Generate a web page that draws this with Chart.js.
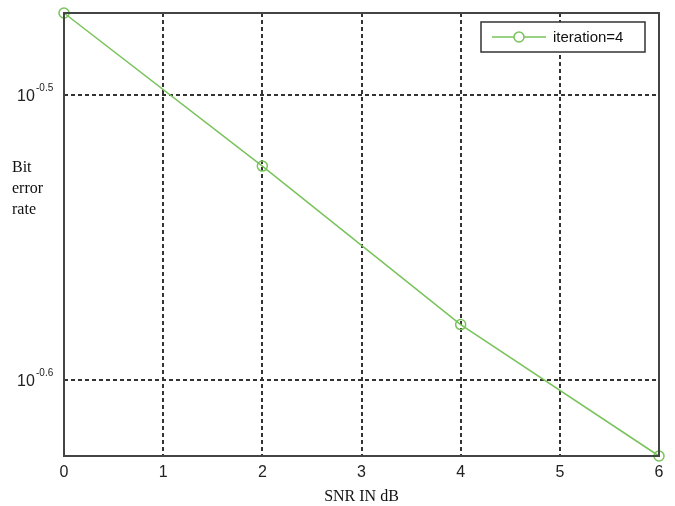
<!DOCTYPE html>
<html>
<head>
<meta charset="UTF-8" />
<title>BER vs SNR</title>
<script src="https://cdn.jsdelivr.net/npm/chart.js@4.4.0/dist/chart.umd.min.js"></script>
<style>
  html, body { margin: 0; padding: 0; background: #fff; }
  .wrap { width: 675px; height: 506px; }
</style>
</head>
<body>
<div class="wrap"><canvas id="chart" width="675" height="506"></canvas></div>
<script>
// data
var snr = [0, 2, 4, 6];
var ber = [0.3377, 0.2985, 0.2627, 0.2363];
var xTicks = [0, 1, 2, 3, 4, 5, 6];
var yTicks = [Math.pow(10, -0.6), Math.pow(10, -0.5)];
var yTickExp = ['-0.6', '-0.5'];
var seriesName = 'iteration=4';

var green = '#78c35a';
var gridCol = '#333';

// draws frame, y tick labels, y title and legend box
var extras = {
  id: 'extras',
  afterDraw: function(chart) {
    var c = chart.ctx, a = chart.chartArea;
    var y = chart.scales.y;
    c.save();
    // frame
    c.strokeStyle = '#444';
    c.lineWidth = 2;
    c.strokeRect(a.left, a.top, a.right - a.left, a.bottom - a.top);

    // y tick labels 10^x
    c.fillStyle = '#222';
    c.textBaseline = 'alphabetic';
    yTicks.forEach(function(v, i) {
      var py = y.getPixelForValue(v);
      c.font = '16px "Liberation Sans", Arial, sans-serif';
      c.textAlign = 'left';
      c.fillText('10', 17, py + 6);
      c.font = '10px "Liberation Sans", Arial, sans-serif';
      c.fillText(yTickExp[i], 36, py - 4);
    });

    // y title, horizontal, three lines
    c.font = '16px "Liberation Serif", "Times New Roman", serif';
    c.fillStyle = '#111';
    c.fillText('Bit', 12, 172);
    c.fillText('error', 12, 193);
    c.fillText('rate', 12, 214);

    // legend
    var lx = 481, ly = 22, lw = 164, lh = 30;
    c.fillStyle = '#fff';
    c.fillRect(lx, ly, lw, lh);
    c.strokeStyle = '#333';
    c.lineWidth = 1.5;
    c.strokeRect(lx, ly, lw, lh);
    c.strokeStyle = green;
    c.lineWidth = 1.5;
    c.beginPath();
    c.moveTo(492, ly + lh / 2);
    c.lineTo(546, ly + lh / 2);
    c.stroke();
    c.beginPath();
    c.arc(519, ly + lh / 2, 5, 0, Math.PI * 2);
    c.fillStyle = '#fff';
    c.fill();
    c.stroke();
    c.fillStyle = '#111';
    c.font = '15px "Liberation Sans", Arial, sans-serif';
    c.textBaseline = 'middle';
    c.fillText(seriesName, 553, ly + lh / 2 + 1);
    c.restore();
  }
};

var ctx = document.getElementById('chart').getContext('2d');
var chart = new Chart(ctx, {
  type: 'line',
  data: {
    datasets: [{
      label: seriesName,
      data: snr.map(function(x, i) { return { x: x, y: ber[i] }; }),
      borderColor: green,
      borderWidth: 1.5,
      backgroundColor: 'rgba(0,0,0,0)',
      pointBackgroundColor: 'rgba(0,0,0,0)',
      pointBorderColor: green,
      pointBorderWidth: 1.5,
      pointRadius: 5,
      tension: 0,
      clip: false
    }]
  },
  options: {
    responsive: false,
    animation: false,
    layout: { padding: { top: 13, right: 16, left: 0, bottom: 0 } },
    plugins: {
      legend: { display: false },
      tooltip: { enabled: false }
    },
    scales: {
      x: {
        type: 'linear',
        min: 0,
        max: 6,
        afterBuildTicks: function(s) { s.ticks = xTicks.map(function(v) { return { value: v }; }); },
        afterFit: function(s) { s.height = 50; },
        grid: {
          color: gridCol,
          lineWidth: 2,
          drawTicks: false
        },
        border: { display: false, dash: [4, 3] },
        ticks: {
          padding: 7,
          color: '#222',
          font: { family: '"Liberation Sans", Arial, sans-serif', size: 16 }
        },
        title: {
          display: true,
          text: 'SNR IN dB',
          color: '#111',
          padding: { top: 2, bottom: 0 },
          font: { family: '"Liberation Serif", "Times New Roman", serif', size: 16 }
        }
      },
      y: {
        type: 'logarithmic',
        min: 0.2363,
        max: 0.3377,
        afterBuildTicks: function(s) { s.ticks = yTicks.map(function(v) { return { value: v }; }); },
        afterFit: function(s) { s.width = 64; },
        grid: {
          color: gridCol,
          lineWidth: 2,
          drawTicks: false
        },
        border: { display: false, dash: [4, 3] },
        ticks: { display: false }
      }
    }
  },
  plugins: [extras]
});
</script>
</body>
</html>
